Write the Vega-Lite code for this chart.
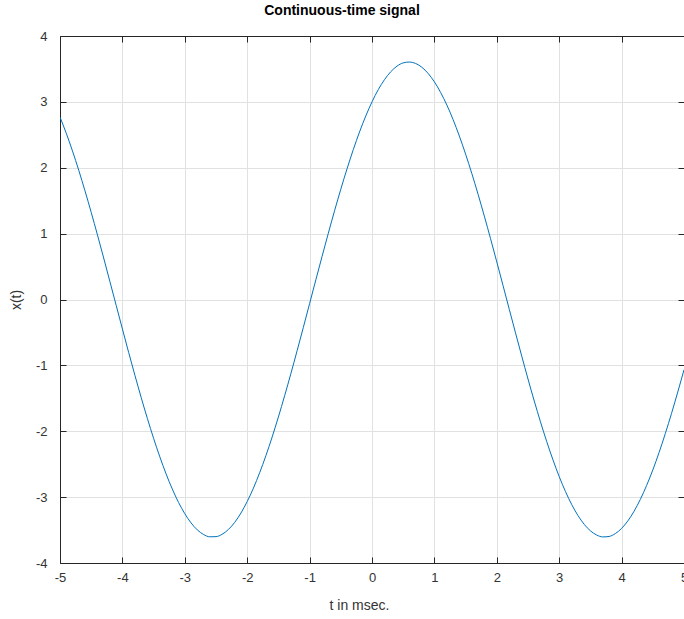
{
  "$schema": "https://vega.github.io/schema/vega-lite/v6.json",
  "width": 624,
  "height": 527,
  "autosize": {"type": "none"},
  "padding": {"left": 60, "top": 36, "right": 0, "bottom": 56},
  "config": {
    "font": "Liberation Sans",
    "view": {"stroke": null},
    "axis": {
      "domainColor": "#262626",
      "domainWidth": 1,
      "tickColor": "#262626",
      "tickSize": -6,
      "tickWidth": 1,
      "labelColor": "#333333",
      "labelFont": "Liberation Sans",
      "labelFontSize": 13,
      "titleFont": "Liberation Sans",
      "titleFontSize": 14,
      "titleFontWeight": "normal",
      "titleColor": "#333333",
      "gridColor": "#e1e1e1",
      "gridWidth": 1
    }
  },
  "title": {
    "text": "Continuous-time signal",
    "fontSize": 14,
    "fontWeight": "bold",
    "color": "#000000",
    "font": "Liberation Sans",
    "anchor": "middle",
    "dx": -30,
    "offset": 12
  },
  "data": {
    "values": [
      {"t": -5.0, "x": 2.769}, {"t": -4.9, "x": 2.524}, {"t": -4.8, "x": 2.255}, {"t": -4.7, "x": 1.963},
      {"t": -4.6, "x": 1.651}, {"t": -4.5, "x": 1.323}, {"t": -4.4, "x": 0.981}, {"t": -4.3, "x": 0.630},
      {"t": -4.2, "x": 0.272}, {"t": -4.1, "x": -0.088}, {"t": -4.0, "x": -0.447}, {"t": -3.9, "x": -0.802},
      {"t": -3.8, "x": -1.149}, {"t": -3.7, "x": -1.485}, {"t": -3.6, "x": -1.805}, {"t": -3.5, "x": -2.108},
      {"t": -3.4, "x": -2.389}, {"t": -3.3, "x": -2.647}, {"t": -3.2, "x": -2.878}, {"t": -3.1, "x": -3.081},
      {"t": -3.0, "x": -3.252}, {"t": -2.9, "x": -3.391}, {"t": -2.8, "x": -3.497}, {"t": -2.7, "x": -3.567},
      {"t": -2.6, "x": -3.602}, {"t": -2.5, "x": -3.600}, {"t": -2.4, "x": -3.563}, {"t": -2.3, "x": -3.490},
      {"t": -2.2, "x": -3.383}, {"t": -2.1, "x": -3.241}, {"t": -2.0, "x": -3.067}, {"t": -1.9, "x": -2.863},
      {"t": -1.8, "x": -2.629}, {"t": -1.7, "x": -2.370}, {"t": -1.6, "x": -2.087}, {"t": -1.5, "x": -1.783},
      {"t": -1.4, "x": -1.461}, {"t": -1.3, "x": -1.125}, {"t": -1.2, "x": -0.777}, {"t": -1.1, "x": -0.422},
      {"t": -1.0, "x": -0.062}, {"t": -0.9, "x": 0.298}, {"t": -0.8, "x": 0.655}, {"t": -0.7, "x": 1.006},
      {"t": -0.6, "x": 1.347}, {"t": -0.5, "x": 1.674}, {"t": -0.4, "x": 1.984}, {"t": -0.3, "x": 2.275},
      {"t": -0.2, "x": 2.543}, {"t": -0.1, "x": 2.785}, {"t": 0.0, "x": 3.000}, {"t": 0.1, "x": 3.185},
      {"t": 0.2, "x": 3.337}, {"t": 0.3, "x": 3.457}, {"t": 0.4, "x": 3.542}, {"t": 0.5, "x": 3.592},
      {"t": 0.6, "x": 3.605}, {"t": 0.7, "x": 3.583}, {"t": 0.8, "x": 3.525}, {"t": 0.9, "x": 3.431},
      {"t": 1.0, "x": 3.304}, {"t": 1.1, "x": 3.143}, {"t": 1.2, "x": 2.951}, {"t": 1.3, "x": 2.730},
      {"t": 1.4, "x": 2.481}, {"t": 1.5, "x": 2.207}, {"t": 1.6, "x": 1.912}, {"t": 1.7, "x": 1.597},
      {"t": 1.8, "x": 1.266}, {"t": 1.9, "x": 0.923}, {"t": 2.0, "x": 0.570}, {"t": 2.1, "x": 0.212},
      {"t": 2.2, "x": -0.149}, {"t": 2.3, "x": -0.507}, {"t": 2.4, "x": -0.861}, {"t": 2.5, "x": -1.207},
      {"t": 2.6, "x": -1.540}, {"t": 2.7, "x": -1.857}, {"t": 2.8, "x": -2.157}, {"t": 2.9, "x": -2.434},
      {"t": 3.0, "x": -2.688}, {"t": 3.1, "x": -2.914}, {"t": 3.2, "x": -3.112}, {"t": 3.3, "x": -3.278},
      {"t": 3.4, "x": -3.412}, {"t": 3.5, "x": -3.511}, {"t": 3.6, "x": -3.575}, {"t": 3.7, "x": -3.604},
      {"t": 3.8, "x": -3.597}, {"t": 3.9, "x": -3.553}, {"t": 4.0, "x": -3.475}, {"t": 4.1, "x": -3.361},
      {"t": 4.2, "x": -3.214}, {"t": 4.3, "x": -3.035}, {"t": 4.4, "x": -2.825}, {"t": 4.5, "x": -2.588},
      {"t": 4.6, "x": -2.324}, {"t": 4.7, "x": -2.037}, {"t": 4.8, "x": -1.730}, {"t": 4.9, "x": -1.405},
      {"t": 5.0, "x": -1.067}
    ]
  },
  "layer": [
    {
      "mark": {"type": "line", "color": "#0072BD", "strokeWidth": 1, "interpolate": "monotone", "clip": true},
      "encoding": {
        "x": {
          "field": "t", "type": "quantitative",
          "scale": {"domain": [-5, 5], "nice": false, "zero": false},
          "axis": {"orient": "bottom", "values": [-5, -4, -3, -2, -1, 0, 1, 2, 3, 4, 5], "grid": true,
                   "labelExpr": "datum.value + ''",
                   "title": "t in msec.", "labelPadding": 14, "titlePadding": 14, "titleAnchor": "start", "titleX": 269, "labelFlush": false}
        },
        "y": {
          "field": "x", "type": "quantitative",
          "scale": {"domain": [-4, 4], "nice": false, "zero": false},
          "axis": {"orient": "left", "values": [-4, -3, -2, -1, 0, 1, 2, 3, 4], "grid": true,
                   "labelExpr": "datum.value + ''",
                   "title": "x(t)", "labelPadding": 19, "titlePadding": 12}
        }
      }
    },
    {
      "mark": {"type": "line", "opacity": 0},
      "encoding": {
        "x": {
          "field": "t", "type": "quantitative",
          "scale": {"domain": [-5, 5], "nice": false, "zero": false},
          "axis": {"orient": "top", "values": [-5, -4, -3, -2, -1, 0, 1, 2, 3, 4, 5], "grid": false, "labels": false, "title": null}
        },
        "y": {
          "field": "x", "type": "quantitative",
          "scale": {"domain": [-4, 4], "nice": false, "zero": false},
          "axis": {"orient": "right", "values": [-4, -3, -2, -1, 0, 1, 2, 3, 4], "grid": false, "labels": false, "title": null}
        }
      }
    }
  ],
  "resolve": {"axis": {"x": "independent", "y": "independent"}}
}
